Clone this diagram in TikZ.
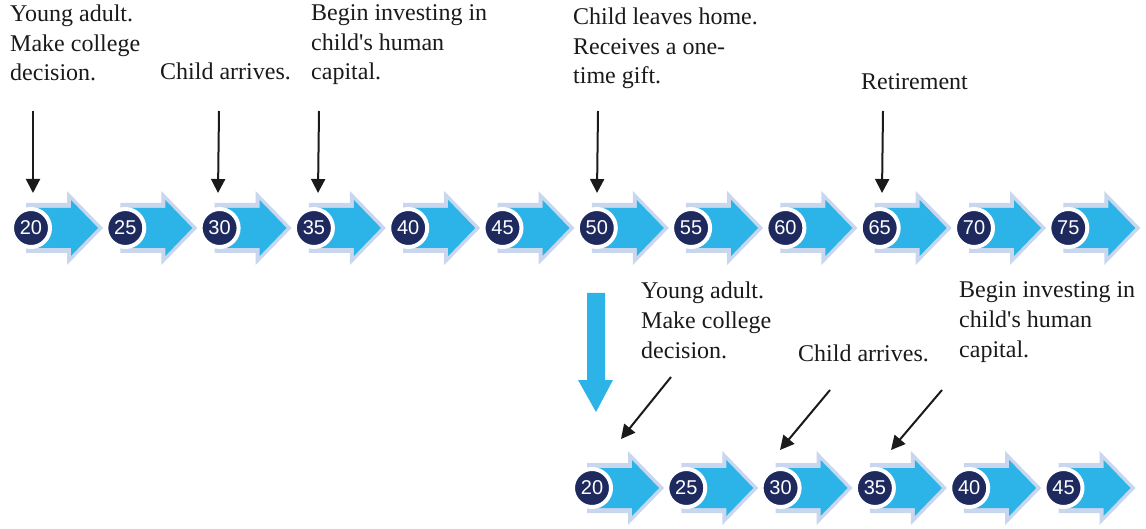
\documentclass[tikz,border=0pt]{standalone}
\usepackage{fontspec}
\setmainfont{Liberation Serif}
\newfontfamily\numfont{Liberation Sans}
\usetikzlibrary{arrows.meta}
\definecolor{navy}{HTML}{1E2A5E}
\definecolor{chblue}{HTML}{2CB4E8}
\definecolor{chlight}{HTML}{C8D6EE}
\definecolor{txt}{HTML}{1A1A1A}
\tikzset{
 lbl/.style={anchor=base west, align=left, inner sep=0pt, font=\fontsize{24}{29.5}\selectfont, text=txt},
 ptr/.style={line width=2pt, draw=txt, -{Triangle[width=14pt,length=14pt]}},
 num/.style={circle, fill=navy, draw=white, line width=4pt, minimum size=38pt, inner sep=0pt, text=white, font=\numfont\fontsize{20}{20}\selectfont},
}
\newcommand\mychev[2]{%
 \fill[chlight] (#1-5,#2-25) -- (#1+36,#2-25) -- (#1+36,#2-37) -- (#1+72,#2) -- (#1+36,#2+37) -- (#1+36,#2+25) -- (#1-5,#2+25) -- cycle;
 \fill[chblue] (#1,#2-20) -- (#1+40,#2-20) -- (#1+40,#2-28) -- (#1+67,#2) -- (#1+40,#2+28) -- (#1+40,#2+20) -- (#1,#2+20) -- cycle;
}
\begin{document}
\begin{tikzpicture}[x=1pt,y=-1pt]
\useasboundingbox (0,0) rectangle (1146,529);
% top row
\foreach \a [count=\i from 0] in {20,25,30,35,40,45,50,55,60,65,70,75}{
  \pgfmathsetmacro\cx{31+94.3*\i}
  \mychev{\cx}{228}
  \node[num] (t\a) at (\cx,228) {\a};
}
% bottom row
\foreach \a [count=\i from 0] in {20,25,30,35,40,45}{
  \pgfmathsetmacro\cx{592+94.3*\i}
  \mychev{\cx}{488}
  \node[num] (b\a) at (\cx,488) {\a};
}
% big down arrow
\fill[chblue] (587,293) -- (605,293) -- (605,380) -- (613,380) -- (596,412) -- (578,380) -- (587,380) -- cycle;
% labels (anchor = baseline of last line)
\node[lbl] (ya1) at (10,81) {Young adult.\\Make college\\decision.};
\node[lbl] (ca1) at (160,80) {Child arrives.};
\node[lbl] (bi1) at (311,80) {Begin investing in\\child\textquotesingle s human\\capital.};
\node[lbl] (cl1) at (573,84) {Child leaves home.\\Receives a one-\\time gift.};
\node[lbl] (re1) at (861,90) {Retirement};
\node[lbl] (ya2) at (641,358) {Young adult.\\Make college\\decision.};
\node[lbl] (ca2) at (798,362) {Child arrives.};
\node[lbl] (bi2) at (959,357) {Begin investing in\\child\textquotesingle s human\\capital.};
% pointer coordinates
\coordinate (p1s) at (33,111); \coordinate (p1e) at (33,193);
\coordinate (p2s) at (219,111); \coordinate (p2e) at (218,193);
\coordinate (p3s) at (319,111); \coordinate (p3e) at (318,193);
\coordinate (p4s) at (598,111); \coordinate (p4e) at (597,193);
\coordinate (p5s) at (883,111); \coordinate (p5e) at (882,193);
\coordinate (q1s) at (671,377); \coordinate (q1e) at (621,439);
\coordinate (q2s) at (830,390); \coordinate (q2e) at (780,450);
\coordinate (q3s) at (942,390); \coordinate (q3e) at (891,450);
\foreach \p in {p1,p2,p3,p4,p5,q1,q2,q3}{
  \draw[ptr] (\p s) -- (\p e);
}
\end{tikzpicture}
\end{document}
